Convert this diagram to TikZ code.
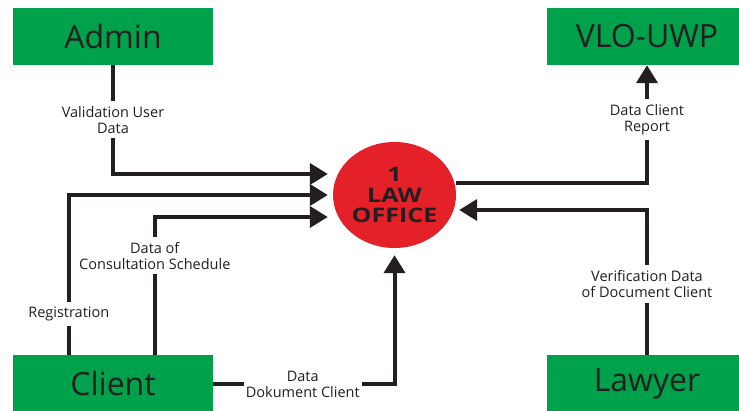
\documentclass[tikz,border=0pt]{standalone}
\usepackage{fontspec}
\setmainfont{Open Sans}
\usepackage{xcolor}
\usetikzlibrary{arrows.meta,shapes.geometric}

\definecolor{boxgreen}{RGB}{0,161,75}
\definecolor{procred}{RGB}{228,32,40}
\definecolor{ink}{RGB}{35,31,32}

\begin{document}
\begin{tikzpicture}[
    x=1pt, y=-1pt,
    entity/.style={rectangle, fill=boxgreen, minimum width=200pt, minimum height=57pt, text=ink, font=\fontsize{32}{34}\selectfont},
    process/.style={ellipse, fill=procred, minimum width=123pt, minimum height=106pt, inner sep=0pt, align=center, text=ink, font=\fontsize{20}{20.5}\selectfont\bfseries\addfontfeature{FakeStretch=1.25}},
    flow/.style={-{Triangle[length=18pt,width=21pt]}, line width=4pt, draw=ink},
    lbl/.style={fill=white, text=ink, align=center, inner xsep=2pt, inner ysep=5pt, font=\fontsize{14.5}{16}\selectfont}
]
    \clip (0,0) rectangle (739,411);

    \node[entity] (admin) at (113,36.5) {Admin};
    \node[entity] (vlo) at (647,36.5) {VLO-UWP};
    \node[entity] (client) at (113,384) {Client};
    \node[entity] (lawyer) at (647,384) {Lawyer};
    \node[process] (office) at (394.5,195) {1\\LAW\\OFFICE};

    \draw[flow, shorten >=5pt] (admin.south) |- ([yshift=21pt]office.west)
        node[lbl, pos=0.25] {Validation User\\Data};
    \draw[flow, shorten >=5pt] ([xshift=56pt]client.north west) |- (office.west)
        node[lbl, pos=0.13] {Registration};
    \draw[flow, shorten >=5pt] ([xshift=142pt]client.north west) |- ([yshift=-22pt]office.west)
        node[lbl, pos=0.36] {Data of\\Consultation Schedule};
    \draw[flow, shorten >=7pt] (client.east) -| (office.south)
        node[lbl, pos=0.247] {Data\\Dokument Client};
    \draw[flow] ([yshift=12pt]office.east) -| (vlo.south)
        node[lbl, pos=0.77] {Data Client\\Report};
    \draw[flow, shorten >=3pt] (lawyer.north) |- ([yshift=-15pt]office.east)
        node[lbl, pos=0.245] {Verification Data\\of Document Client};
\end{tikzpicture}
\end{document}
